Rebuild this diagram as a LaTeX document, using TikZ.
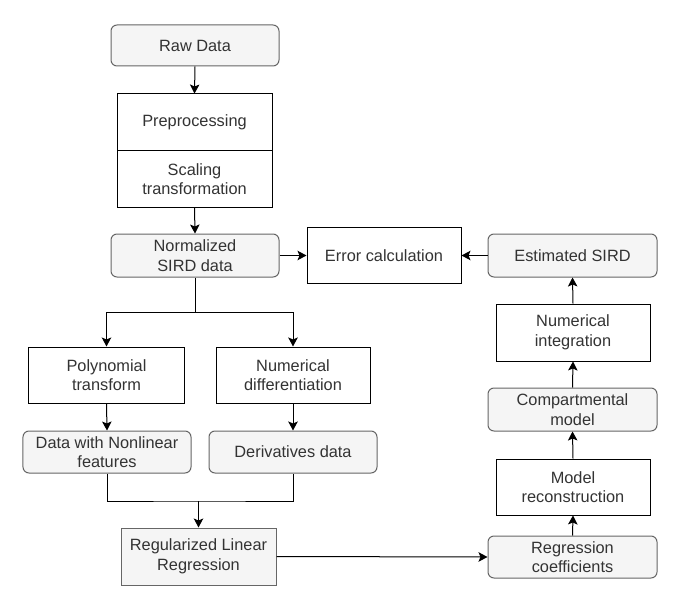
\documentclass[tikz,border=0pt]{standalone}
\usepackage{fontspec}
\setmainfont{Liberation Sans}
\usetikzlibrary{arrows.meta,calc}
\definecolor{txt}{HTML}{333333}
\definecolor{bord}{HTML}{666666}
\definecolor{fillg}{HTML}{F5F5F5}
\tikzset{
  base/.style={inner sep=0pt, align=center, text=txt, font=\fontsize{16.4}{19.7}\selectfont, line width=1bp},
  rbox/.style={base, draw=bord, fill=fillg, rounded corners=6bp},
  pbox/.style={base, draw=black, fill=white},
  gbox/.style={base, draw=bord, fill=fillg},
  arr/.style={line width=1bp, draw=black, -{Stealth[length=9bp,width=9.5bp,inset=2bp]}},
  ln/.style={line width=1bp, draw=black},
}
\begin{document}
\begin{tikzpicture}[x=1bp,y=-1bp]
\useasboundingbox (0,0) rectangle (680,607);
\node[rbox, minimum width=168bp, minimum height=41bp] (raw) at (195,45.5) {Raw Data};
\node[pbox, minimum width=155bp, minimum height=57bp] (pre) at (194.5,122.5) {Preprocessing};
\node[pbox, minimum width=155bp, minimum height=56bp] (scal) at (194.5,179) {Scaling\\transformation};
\node[rbox, minimum width=168bp, minimum height=43bp] (norm) at (195,255.5) {Normalized\\SIRD data};
\node[pbox, minimum width=154bp, minimum height=56bp] (err) at (384,255.5) {Error calculation};
\node[rbox, minimum width=169bp, minimum height=43bp] (est) at (572.5,255.5) {Estimated SIRD};
\node[pbox, minimum width=154bp, minimum height=57bp] (nint) at (573,332.5) {Numerical\\integration};
\node[rbox, minimum width=169bp, minimum height=43bp] (comp) at (572.5,409.5) {Compartmental\\model};
\node[pbox, minimum width=154bp, minimum height=56bp] (recon) at (573,487) {Model\\reconstruction};
\node[rbox, minimum width=169bp, minimum height=42bp] (coef) at (572.5,557) {Regression\\coefficients};
\node[pbox, minimum width=155bp, minimum height=56bp] (poly) at (106.5,375) {Polynomial\\transform};
\node[pbox, minimum width=154bp, minimum height=56bp] (diff) at (293,375) {Numerical\\differentiation};
\node[rbox, minimum width=168bp, minimum height=42bp] (dnl) at (107,452) {Data with Nonlinear\\features};
\node[rbox, minimum width=168bp, minimum height=42bp] (der) at (293,452) {Derivatives data};
\node[gbox, minimum width=155bp, minimum height=57bp] (reg) at (198.5,556.5) {Regularized Linear\\Regression};
\coordinate (split) at (195,312);
\coordinate (merge) at (198.5,501);
\draw[arr] (raw.south) -- (pre.north);
\draw[arr] (scal.south) -- (norm.north);
\draw[arr] (norm.east) -- (err.west);
\draw[arr] (est.west) -- (err.east);
\draw[ln] (norm.south) -- (split);
\draw[arr] (split) -| (poly.north);
\draw[arr] (split) -| (diff.north);
\draw[arr] (poly.south) -- (dnl.north);
\draw[arr] (diff.south) -- (der.north);
\draw[ln] (dnl.south) |- (merge) -| (der.south);
\draw[arr] (merge) -- (reg.north);
\draw[arr] (reg.east) -- (coef.west);
\draw[arr] (coef.north) -- (recon.south);
\draw[arr] (recon.north) -- (comp.south);
\draw[arr] (comp.north) -- (nint.south);
\draw[arr] (nint.north) -- (est.south);
\end{tikzpicture}
\end{document}
